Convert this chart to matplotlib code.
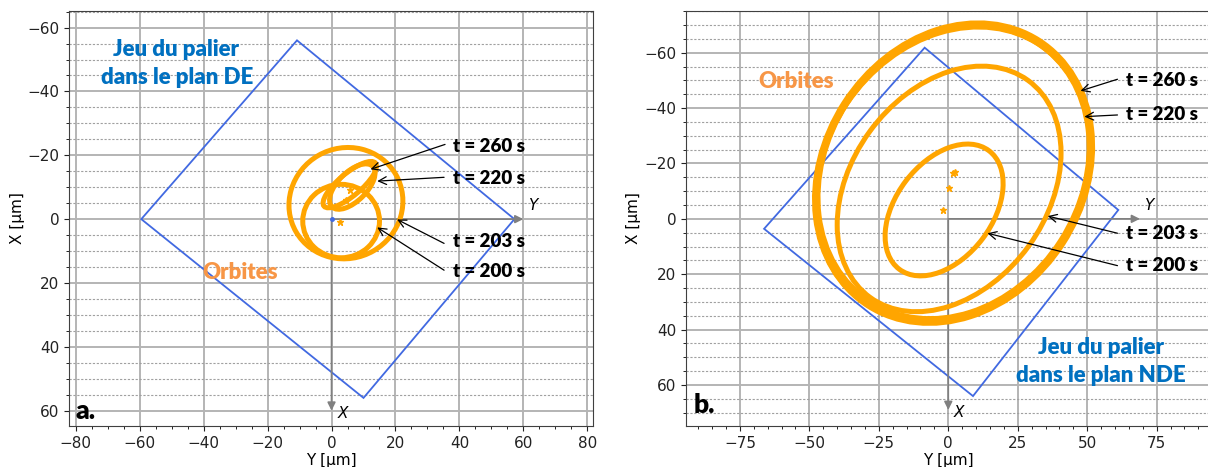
"""
Orbites du rotor dans le jeu du palier, plans DE et NDE.
"""

import matplotlib
matplotlib.use('Agg')
import matplotlib.pyplot as plt
import matplotlib.ticker as ticker
from matplotlib.patches import Ellipse, Polygon

# ---- data (µm) ----
# bearing clearance outline (Y, X vertices)
clear_de_y = [-10.8, -59.5, 10.0, 57.2]
clear_de_x = [-56.0, 0.0, 56.0, 0.0]
clear_nde_y = [-8.5, -66.3, 8.9, 61.2]
clear_nde_x = [-61.8, 3.6, 64.0, -3.2]

# orbits as ellipses: centre Y, centre X, width, height, angle (deg)
orb_de_cy = [4.5, 3.0, 5.7, 6.5]
orb_de_cx = [-5.0, 0.6, -10.8, -10.2]
orb_de_w = [36.0, 24.0, 21.0, 18.0]
orb_de_h = [34.5, 23.0, 7.0, 9.0]
orb_de_ang = [-30.0, 0.0, -40.0, -45.0]

orb_nde_cy = [1.9, 1.9, 1.7, 0.3, -1.5]
orb_nde_cx = [-16.5, -16.8, -16.0, -10.8, -3.2]
orb_nde_w = [114.0, 111.0, 112.5, 96.8, 53.6]
orb_nde_h = [93.8, 91.5, 92.0, 70.6, 34.6]
orb_nde_ang = [-57.3, -57.3, -56.0, -54.1, -53.0]

# small star markers (start points)
star_de_y = [2.6, 5.7, 4.6]
star_de_x = [1.0, -9.1, -6.0]
star_nde_y = [1.6, 2.5, 0.2, -1.9]
star_nde_x = [-16.4, -16.8, -11.0, -3.2]

# time labels and arrows
t_labels = ['t = 260 s', 't = 220 s', 't = 203 s', 't = 200 s']
lab_de_y = [38.0, 38.0, 38.0, 38.0]
lab_de_x = [-22.7, -12.8, 7.1, 16.5]
arr_de_from = [(35.5, -23.4), (35.2, -13.1), (35.2, 7.6), (35.2, 16.0)]
arr_de_to = [(12.2, -15.6), (14.3, -11.9), (20.5, 0.1), (14.3, 2.6)]

lab_nde_y = [64.1, 64.1, 64.1, 64.1]
lab_nde_x = [-50.1, -37.5, 5.2, 16.9]
arr_nde_from = [(60.9, -50.4), (60.9, -37.5), (60.9, 5.2), (60.9, 16.9)]
arr_nde_to = [(47.6, -46.2), (49.0, -36.9), (35.8, -1.0), (14.1, 5.2)]

ORANGE = '#FFA500'
ORANGE_TXT = '#F79646'
BLUE_LINE = '#4169E1'
BLUE_TXT = '#0070C0'
GREY = '#808080'
TXT_FONT = ['Lato', 'DejaVu Sans']
TXT_WEIGHT = 'heavy'


def draw_panel(ax, clear_y, clear_x, cy, cx, w, h, ang, sy, sx,
               lab_y, lab_x, arr_from, arr_to, axis_len, xlim, ylim, major_x):
    # grid
    ax.set_xlim(*xlim)
    ax.set_ylim(*ylim)
    ax.xaxis.set_major_locator(ticker.MultipleLocator(major_x))
    ax.yaxis.set_major_locator(ticker.MultipleLocator(20))
    ax.xaxis.set_minor_locator(ticker.AutoMinorLocator())
    ax.yaxis.set_minor_locator(ticker.AutoMinorLocator())
    ax.grid(which='major', color='#b4b4b4', linewidth=1.4, zorder=0)
    ax.grid(which='minor', axis='y', color='#a0a0a0', linewidth=0.8,
            linestyle=(0, (2, 1.5)), zorder=0)
    ax.set_axisbelow(True)
    ax.tick_params(labelsize=11, colors='#222222')
    for sp in ax.spines.values():
        sp.set_color('#404040')

    # clearance outline
    ax.add_patch(Polygon(list(zip(clear_y, clear_x)), closed=True, fill=False,
                         edgecolor=BLUE_LINE, linewidth=1.3, zorder=3))

    # local Y / X arrows
    ax.annotate('', xy=(axis_len, 0), xytext=(0, 0),
                arrowprops=dict(arrowstyle='-|>', color=GREY, lw=1.2,
                                mutation_scale=12, shrinkA=0, shrinkB=0), zorder=4)
    ax.annotate('', xy=(0, axis_len), xytext=(0, 0),
                arrowprops=dict(arrowstyle='-|>', color=GREY, lw=1.2,
                                mutation_scale=12, shrinkA=0, shrinkB=0), zorder=4)
    ax.text(axis_len + 1.5, -2, 'Y', fontsize=11, style='italic', va='bottom', ha='left')
    ax.text(2.0, axis_len + 1, 'X', fontsize=11, style='italic', va='center', ha='left')

    # orbits
    for i in range(len(cy)):
        ax.add_patch(Ellipse((cy[i], cx[i]), w[i], h[i], angle=ang[i], fill=False,
                             edgecolor=ORANGE, linewidth=3.6, zorder=5))
    ax.plot(sy, sx, linestyle='none', marker='*', color=ORANGE, markersize=5, zorder=6)

    # time labels
    for i, lab in enumerate(t_labels):
        ax.text(lab_y[i], lab_x[i], lab, family=TXT_FONT, fontweight=TXT_WEIGHT,
                fontsize=13.5, va='center', ha='left', zorder=7)
        ax.annotate('', xy=arr_to[i], xytext=arr_from[i],
                    arrowprops=dict(arrowstyle='->', color='black', lw=0.9,
                                    mutation_scale=14, shrinkA=0, shrinkB=0), zorder=7)

    ax.set_xlabel('Y [µm]', fontsize=11, labelpad=2)
    ax.set_ylabel('X [µm]', fontsize=11, labelpad=2)


fig = plt.figure(figsize=(12.08, 4.67), dpi=100)
ax1 = fig.add_axes([0.0574, 0.0878, 0.4333, 0.8887])
ax2 = fig.add_axes([0.5679, 0.0878, 0.4342, 0.8887])

draw_panel(ax1, clear_de_y, clear_de_x, orb_de_cy, orb_de_cx, orb_de_w, orb_de_h,
           orb_de_ang, star_de_y, star_de_x, lab_de_y, lab_de_x, arr_de_from, arr_de_to,
           60, (-82.0, 81.7), (64.8, -65.2), 20)
ax1.plot([0], [0], marker='o', color=BLUE_LINE, markersize=2.5, zorder=6)
ax1.text(-48.6, -53.2, 'Jeu du palier', family=TXT_FONT, fontweight=TXT_WEIGHT,
         fontsize=16, color=BLUE_TXT, ha='center', va='center')
ax1.text(-48.4, -44.4, 'dans le plan DE', family=TXT_FONT, fontweight=TXT_WEIGHT,
         fontsize=16, color=BLUE_TXT, ha='center', va='center')
ax1.text(-28.5, 16.8, 'Orbites', family=TXT_FONT, fontweight=TXT_WEIGHT,
         fontsize=16, color=ORANGE_TXT, ha='center', va='center')
ax1.text(-80.2, 60.0, 'a.', family=TXT_FONT, fontweight=TXT_WEIGHT,
         fontsize=19, ha='left', va='center')

draw_panel(ax2, clear_nde_y, clear_nde_x, orb_nde_cy, orb_nde_cx, orb_nde_w, orb_nde_h,
           orb_nde_ang, star_nde_y, star_nde_x, lab_nde_y, lab_nde_x, arr_nde_from,
           arr_nde_to, 69, (-94.4, 94.4), (74.8, -75.05), 25)
ax2.text(54.9, 46.5, 'Jeu du palier', family=TXT_FONT, fontweight=TXT_WEIGHT,
         fontsize=16, color=BLUE_TXT, ha='center', va='center')
ax2.text(54.9, 56.7, 'dans le plan NDE', family=TXT_FONT, fontweight=TXT_WEIGHT,
         fontsize=16, color=BLUE_TXT, ha='center', va='center')
ax2.text(-54.9, -49.5, 'Orbites', family=TXT_FONT, fontweight=TXT_WEIGHT,
         fontsize=16, color=ORANGE_TXT, ha='center', va='center')
ax2.text(-91.5, 67.2, 'b.', family=TXT_FONT, fontweight=TXT_WEIGHT,
         fontsize=19, ha='left', va='center')

plt.savefig('out.png', dpi=100)
plt.close()
